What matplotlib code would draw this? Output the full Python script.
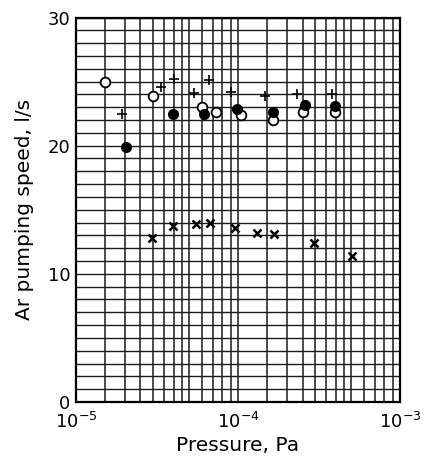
import matplotlib
matplotlib.use('Agg')
import matplotlib.pyplot as plt
import numpy as np

# data (pressure in Pa, speed in l/s)
open_p = [1.51e-5, 3.0e-5, 5.97e-5, 7.3e-5, 1.04e-4, 1.64e-4, 2.53e-4, 3.97e-4]
open_s = [25.0, 23.9, 23.0, 22.6, 22.4, 22.0, 22.6, 22.6]

filled_p = [2.04e-5, 3.99e-5, 6.2e-5, 9.8e-5, 1.65e-4, 2.59e-4, 3.97e-4]
filled_s = [19.9, 22.5, 22.5, 22.85, 22.65, 23.2, 23.1]

plus_p = [1.91e-5, 3.35e-5, 4.0e-5, 5.37e-5, 6.62e-5, 9.0e-5, 1.47e-4, 2.30e-4, 3.78e-4]
plus_s = [22.5, 24.6, 25.2, 24.1, 25.1, 24.2, 23.9, 24.0, 24.0]

cross_p = [2.93e-5, 3.99e-5, 5.5e-5, 6.7e-5, 9.58e-5, 1.30e-4, 1.67e-4, 2.96e-4, 5.08e-4]
cross_s = [12.77, 13.75, 13.86, 13.99, 13.6, 13.2, 13.1, 12.4, 11.4]

y_ticks = [0, 10, 20, 30]
x_ticks = [1e-5, 1e-4, 1e-3]

fig = plt.figure(figsize=(4.27, 4.61), dpi=100)
ax = fig.add_axes([0.178, 0.128, 0.759, 0.834])

ax.set_xscale('log')
ax.set_xlim(1e-5, 1e-3)
ax.set_ylim(0, 30)

# graph-paper grid: half steps up to 5, whole steps after
mult = [1.5, 2, 2.5, 3, 3.5, 4, 4.5, 5, 6, 7, 8, 9]
minor_x = [m * d for d in [1e-5, 1e-4] for m in mult]
ax.set_xticks(x_ticks)
ax.set_xticks(minor_x, minor=True)
ax.set_yticks(y_ticks)
ax.set_yticks(np.arange(1, 30, 1), minor=True)
ax.grid(which='both', axis='x', color='#1a1a1a', lw=1.1)
ax.grid(which='both', axis='y', color='#1a1a1a', lw=1.0)
ax.set_axisbelow(True)
ax.tick_params(which='both', length=0)
ax.tick_params(axis='y', labelsize=13, pad=4)
ax.tick_params(axis='x', labelsize=13, pad=7)
for s in ax.spines.values():
    s.set_linewidth(1.6)

mk = dict(linestyle='none', zorder=3)
ax.plot(open_p, open_s, marker='o', ms=7, mfc='white', mec='black', mew=1.3, **mk)
ax.plot(filled_p, filled_s, marker='o', ms=7, mfc='black', mec='black', **mk)
ax.plot(plus_p, plus_s, marker='+', ms=7, mec='black', mew=1.2, **mk)
ax.plot(cross_p, cross_s, marker='x', ms=6, mec='black', mew=1.8, **mk)

ax.set_xlabel('Pressure, Pa', fontsize=14.5, labelpad=3)
ax.set_ylabel('Ar pumping speed, l/s', fontsize=14.5, labelpad=10)

fig.savefig('out.png', dpi=100)
